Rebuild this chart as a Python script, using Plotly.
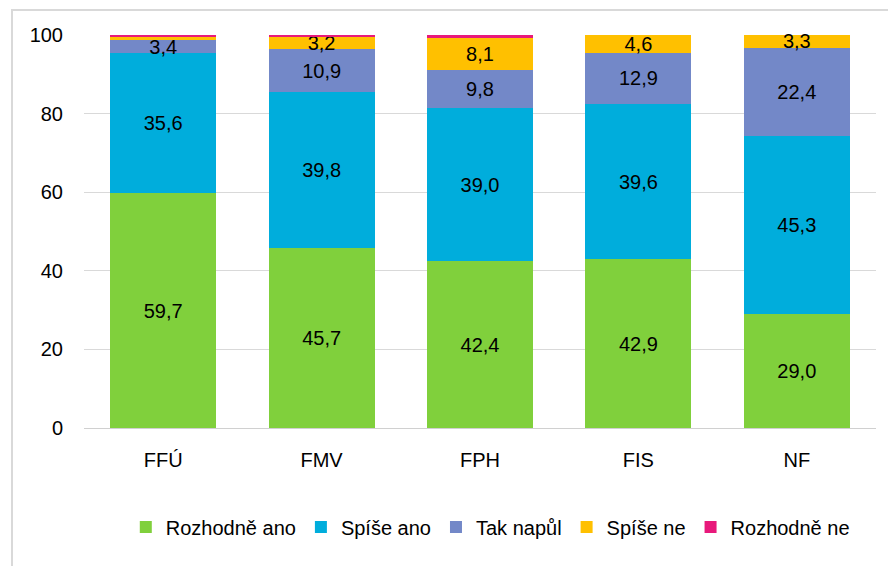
import plotly.graph_objects as go

categories = ["FFÚ", "FMV", "FPH", "FIS", "NF"]
series_names = ["Rozhodně ano", "Spíše ano", "Tak napůl", "Spíše ne", "Rozhodně ne"]
rozhodne_ano = [59.7, 45.7, 42.4, 42.9, 29.0]
spise_ano = [35.6, 39.8, 39.0, 39.6, 45.3]
tak_napul = [3.4, 10.9, 9.8, 12.9, 22.4]
spise_ne = [0.7, 3.2, 8.1, 4.6, 3.3]
rozhodne_ne = [0.6, 0.4, 0.7, 0.0, 0.0]
colors = ["#80D03C", "#00ADDC", "#7388C8", "#FFC000", "#E8197B"]

FONT = "Liberation Sans, Arial, sans-serif"
FS = 20

fig = go.Figure()
for name, vals, col in zip(series_names,
                           [rozhodne_ano, spise_ano, tak_napul, spise_ne, rozhodne_ne],
                           colors):
    labels = [f"{v:.1f}".replace(".", ",") if v >= 3 else "" for v in vals]
    fig.add_trace(go.Bar(
        x=categories, y=vals, name=name, marker=dict(color=col, line=dict(width=0)),
        text=labels, textposition="inside", insidetextanchor="middle",
        textfont=dict(color="black", size=FS, family=FONT),
        constraintext="none", cliponaxis=False,
    ))

# page body has an 8px offset; margins are compensated for it
W, H = 896, 566
ml, mr, mt, mb = 76, 28, 27, 146
pw, ph = W - ml - mr, H - mt - mb

fig.update_layout(
    width=W, height=H, barmode="stack", bargap=0.33,
    margin=dict(l=ml, r=mr, t=mt, b=mb, autoexpand=False),
    plot_bgcolor="white", paper_bgcolor="white",
    font=dict(family=FONT, size=FS, color="black"),
    uniformtext=dict(minsize=FS, mode="show"),
    xaxis=dict(showline=True, linecolor="#D0D0D0", linewidth=1, ticks="",
               tickfont=dict(size=FS), showgrid=False, ticklabelstandoff=14),
    yaxis=dict(range=[0, 100], dtick=20, showgrid=True, gridcolor="#D9D9D9",
               gridwidth=1, zeroline=False, ticks="", tickfont=dict(size=FS),
               ticklabelstandoff=20),
    legend=dict(orientation="h", x=0.513, xanchor="center", y=-(519 - (mt + ph)) / ph,
                yanchor="middle", font=dict(size=FS), traceorder="normal"),
    showlegend=True,
    shapes=[dict(type="rect", xref="paper", yref="paper",
                 x0=(4 - ml) / pw, x1=(W + 10 - ml) / pw,
                 y0=-(H + 10 - mt - ph) / ph, y1=1 + (mt - 2) / ph,
                 line=dict(color="#D9D9D9", width=2), layer="below")],
)
fig.write_html("out.html")
